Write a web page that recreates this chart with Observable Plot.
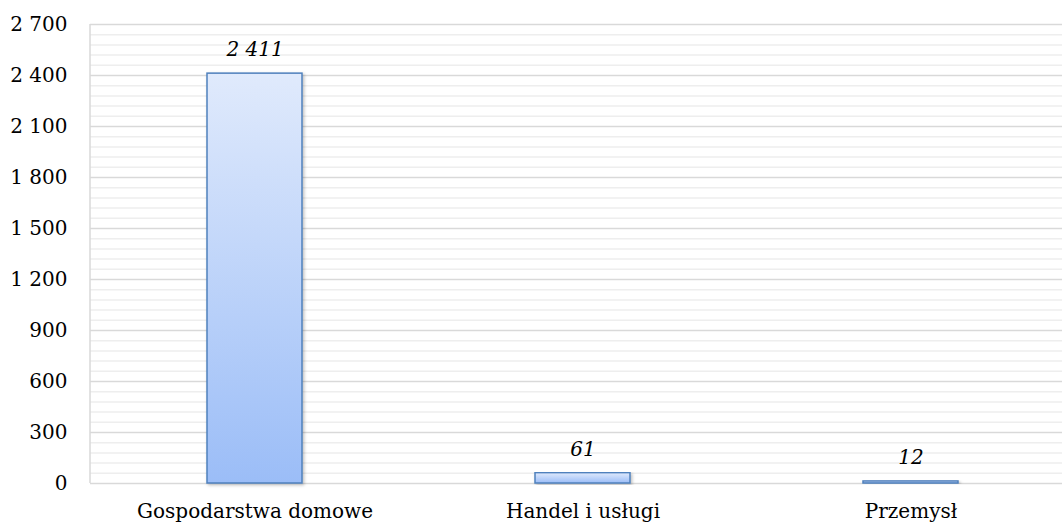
<!DOCTYPE html>
<html>
<head>
<meta charset="utf-8">
<script src="https://cdn.jsdelivr.net/npm/d3@7"></script>
<script src="https://cdn.jsdelivr.net/npm/@observablehq/plot@0.6"></script>
<style>
  html, body { margin: 0; padding: 0; background: #fff; }
</style>
</head>
<body>
<div id="chart"></div>
<script>
const categories = ["Gospodarstwa domowe", "Handel i usługi", "Przemysł"];
const values = [2411, 61, 12];
const majorTicks = [0, 300, 600, 900, 1200, 1500, 1800, 2100, 2400, 2700];
const minorTicks = [60,120,180,240,360,420,480,540,660,720,780,840,960,1020,1080,1140,1260,1320,1380,1440,1560,1620,1680,1740,1860,1920,1980,2040,2160,2220,2280,2340,2460,2520,2580,2640];

const data = categories.map((c, i) => ({cat: c, value: values[i]}));
const fmt = d3.formatLocale({decimal: ",", thousands: "\u00a0", grouping: [3], currency: ["", ""]}).format(",d");

const chartW = 1062, chartH = 525, mLeft = 90, mTop = 24, mBottom = 42;

function defsMark() {
  const ns = "http://www.w3.org/2000/svg";
  const defs = document.createElementNS(ns, "defs");
  defs.innerHTML = `
    <linearGradient id="barGrad" x1="0" y1="0" x2="0" y2="1">
      <stop offset="0" stop-color="#e0eafc"/>
      <stop offset="1" stop-color="#9bbdf7"/>
    </linearGradient>
    <filter id="shadow" x="-20%" y="-5%" width="140%" height="115%">
      <feDropShadow dx="1.5" dy="1.5" stdDeviation="1.5" flood-color="#000" flood-opacity="0.25"/>
    </filter>`;
  return defs;
}

function leftLine(index, scales, vals, dims) {
  const ns = "http://www.w3.org/2000/svg";
  const l = document.createElementNS(ns, "line");
  l.setAttribute("x1", dims.marginLeft);
  l.setAttribute("x2", dims.marginLeft);
  l.setAttribute("y1", scales.y(2700));
  l.setAttribute("y2", scales.y(0));
  l.setAttribute("stroke", "#d9d9d9");
  l.setAttribute("stroke-width", 1.5);
  return l;
}

const chart = Plot.plot({
  width: chartW,
  height: chartH,
  marginLeft: mLeft,
  marginRight: 0,
  marginTop: mTop,
  marginBottom: mBottom,
  style: {fontFamily: "'DejaVu Serif', serif", fontSize: "20px", color: "#000", background: "#fff"},
  x: {domain: categories, range: [mLeft, 1075.5], paddingInner: 0.71, paddingOuter: 0.355, align: 0.5, label: null},
  y: {domain: [0, 2700], range: [chartH - mBottom, mTop], label: null},
  marks: [
    defsMark,
    Plot.ruleY(minorTicks, {stroke: "#eeeeee", strokeWidth: 1.5}),
    Plot.ruleY(majorTicks, {stroke: "#d9d9d9", strokeWidth: 1.5}),
    leftLine,
    Plot.axisY(majorTicks, {tickSize: 0, tickPadding: 23, tickFormat: fmt, fontSize: 20}),
    Plot.axisX({tickSize: 0, tickPadding: 20, fontSize: 20}),
    Plot.barY(data, {x: "cat", y: "value", fill: "url(#barGrad)", stroke: "#4f81bd", strokeWidth: 1.5}),
    Plot.text(data, {x: "cat", y: "value", text: d => fmt(d.value), dy: -24, fontStyle: "italic", fontSize: 20, fill: "#000"})
  ]
});

chart.querySelectorAll("g[aria-label='bar'] rect").forEach(r => r.setAttribute("filter", "url(#shadow)"));
document.getElementById("chart").appendChild(chart);
</script>
</body>
</html>
